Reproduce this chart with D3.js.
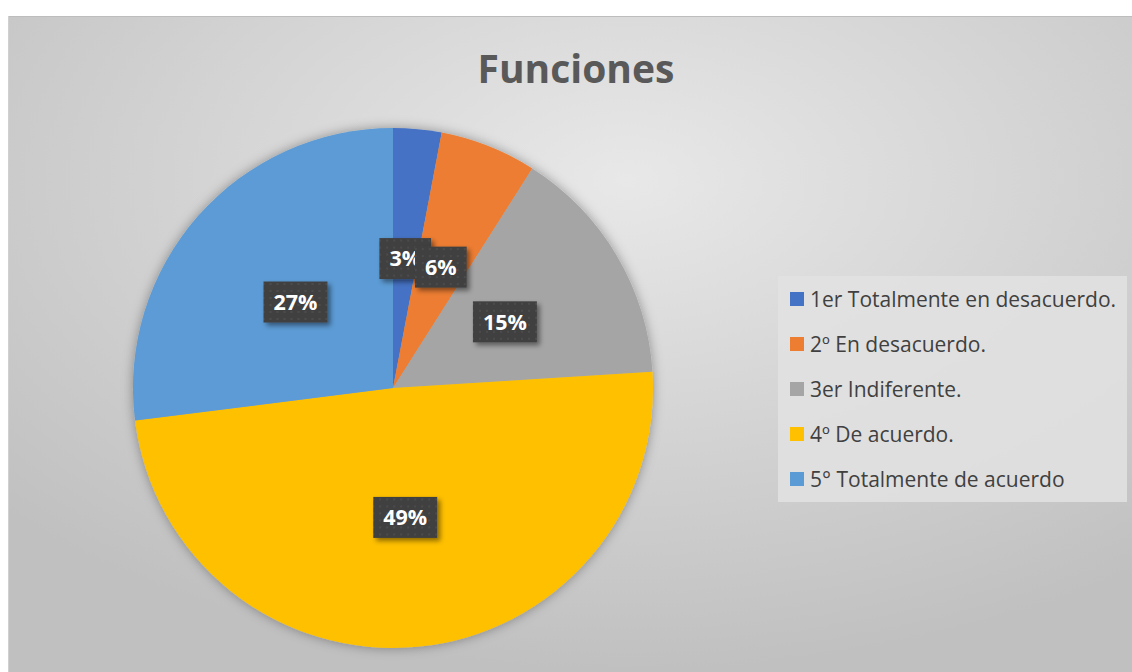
<!DOCTYPE html>
<html>
<head>
<meta charset="utf-8">
<script src="https://cdn.jsdelivr.net/npm/d3@7"></script>
<style>
  body { margin: 0; background: #fff; }
  svg { display: block; font-family: 'Open Sans', Lato, sans-serif; }
</style>
</head>
<body>
<div id="chart"></div>
<script>
const categories = ['1er Totalmente en desacuerdo.', '2º En desacuerdo.', '3er Indiferente.', '4º De acuerdo.', '5° Totalmente de acuerdo']
const values = [3, 6, 15, 49, 27]
const colors = ['#4472C4', '#ED7D31', '#A5A5A5', '#FFC000', '#5B9BD5']
const title = 'Funciones'

const w = 1132,
      h = 672,
      cx = 393,
      cy = 388,
      r = 260

const svg = d3.select('#chart')
              .append('svg')
              .attr('width', w)
              .attr('height', h)

const defs = svg.append('defs')

const bg = defs.append('radialGradient')
               .attr('id', 'bg')
               .attr('cx', '0.55').attr('cy', '0.25').attr('r', '0.75')
bg.append('stop').attr('offset', '0%').attr('stop-color', '#e8e8e8')
bg.append('stop').attr('offset', '100%').attr('stop-color', '#c0c0c0')

const dots = defs.append('pattern')
                 .attr('id', 'dots')
                 .attr('width', 7).attr('height', 7)
                 .attr('patternUnits', 'userSpaceOnUse')
dots.append('rect').attr('width', 7).attr('height', 7).attr('fill', '#404040')
dots.append('rect').attr('x', 2).attr('y', 2).attr('width', 2).attr('height', 2).attr('fill', '#4c4c4c')

const pieShadow = defs.append('filter').attr('id', 'pieShadow')
                      .attr('x', '-20%').attr('y', '-20%').attr('width', '140%').attr('height', '140%')
pieShadow.append('feDropShadow')
         .attr('dx', 0).attr('dy', 0).attr('stdDeviation', 6)
         .attr('flood-color', '#000').attr('flood-opacity', 0.35)

const boxShadow = defs.append('filter').attr('id', 'boxShadow')
                      .attr('x', '-30%').attr('y', '-30%').attr('width', '160%').attr('height', '160%')
boxShadow.append('feDropShadow')
         .attr('dx', 3).attr('dy', 3).attr('stdDeviation', 2.5)
         .attr('flood-color', '#000').attr('flood-opacity', 0.45)

// chart area
svg.append('rect')
   .attr('x', 8).attr('y', 16)
   .attr('width', w - 8).attr('height', h - 16)
   .attr('fill', 'url(#bg)')
svg.append('line')
   .attr('x1', 8).attr('x2', w).attr('y1', 16.5).attr('y2', 16.5)
   .attr('stroke', '#bdbdbd')
svg.append('line')
   .attr('x1', 8.5).attr('x2', 8.5).attr('y1', 16).attr('y2', h)
   .attr('stroke', '#d0d0d0')

svg.append('text')
   .attr('x', 576).attr('y', 83)
   .attr('text-anchor', 'middle')
   .attr('font-size', 39)
   .attr('font-weight', 'bold')
   .attr('fill', '#595959')
   .text(title)

const pie = d3.pie().sort(null).value((d) => d)
const arcs = pie(values)
const arc = d3.arc().innerRadius(0).outerRadius(r)

const g = svg.append('g').attr('transform', `translate(${cx},${cy})`)

g.append('g')
 .attr('filter', 'url(#pieShadow)')
 .selectAll('path')
 .data(arcs)
 .enter()
 .append('path')
 .attr('d', arc)
 .attr('fill', (d, i) => colors[i])

// data labels
const labels = g.selectAll('.lbl')
                .data(arcs)
                .enter()
                .append('g')
                .attr('class', 'lbl')
                .attr('transform', (d) => `translate(${arc.centroid(d)})`)

labels.append('rect').attr('class', 'box')
labels.append('text')
      .attr('text-anchor', 'middle')
      .attr('dy', '0.36em')
      .attr('font-size', 21.5)
      .attr('font-weight', 'bold')
      .attr('fill', '#fff')
      .text((d) => d.data + '%')

labels.each(function() {
  const t = d3.select(this).select('text').node().getBBox()
  const bw = t.width + 20, bh = 41
  d3.select(this).select('rect')
    .attr('x', -bw / 2).attr('y', -bh / 2)
    .attr('width', bw).attr('height', bh)
    .attr('fill', 'url(#dots)')
    .attr('filter', 'url(#boxShadow)')
})

// legend
const legend = svg.append('g').attr('transform', 'translate(778,276)')
legend.append('rect')
      .attr('width', 349).attr('height', 226)
      .attr('fill', '#e2e2e2').attr('opacity', 0.85)

const item = legend.selectAll('.item')
                   .data(categories)
                   .enter()
                   .append('g')
                   .attr('class', 'item')
                   .attr('transform', (d, i) => `translate(0,${23 + i * 45})`)

item.append('rect')
    .attr('x', 12).attr('y', -7)
    .attr('width', 14).attr('height', 14)
    .attr('fill', (d, i) => colors[i])

item.append('text')
    .attr('x', 32).attr('dy', '0.36em')
    .attr('font-size', 21)
    .attr('fill', '#404040')
    .text((d) => d)
</script>
</body>
</html>
